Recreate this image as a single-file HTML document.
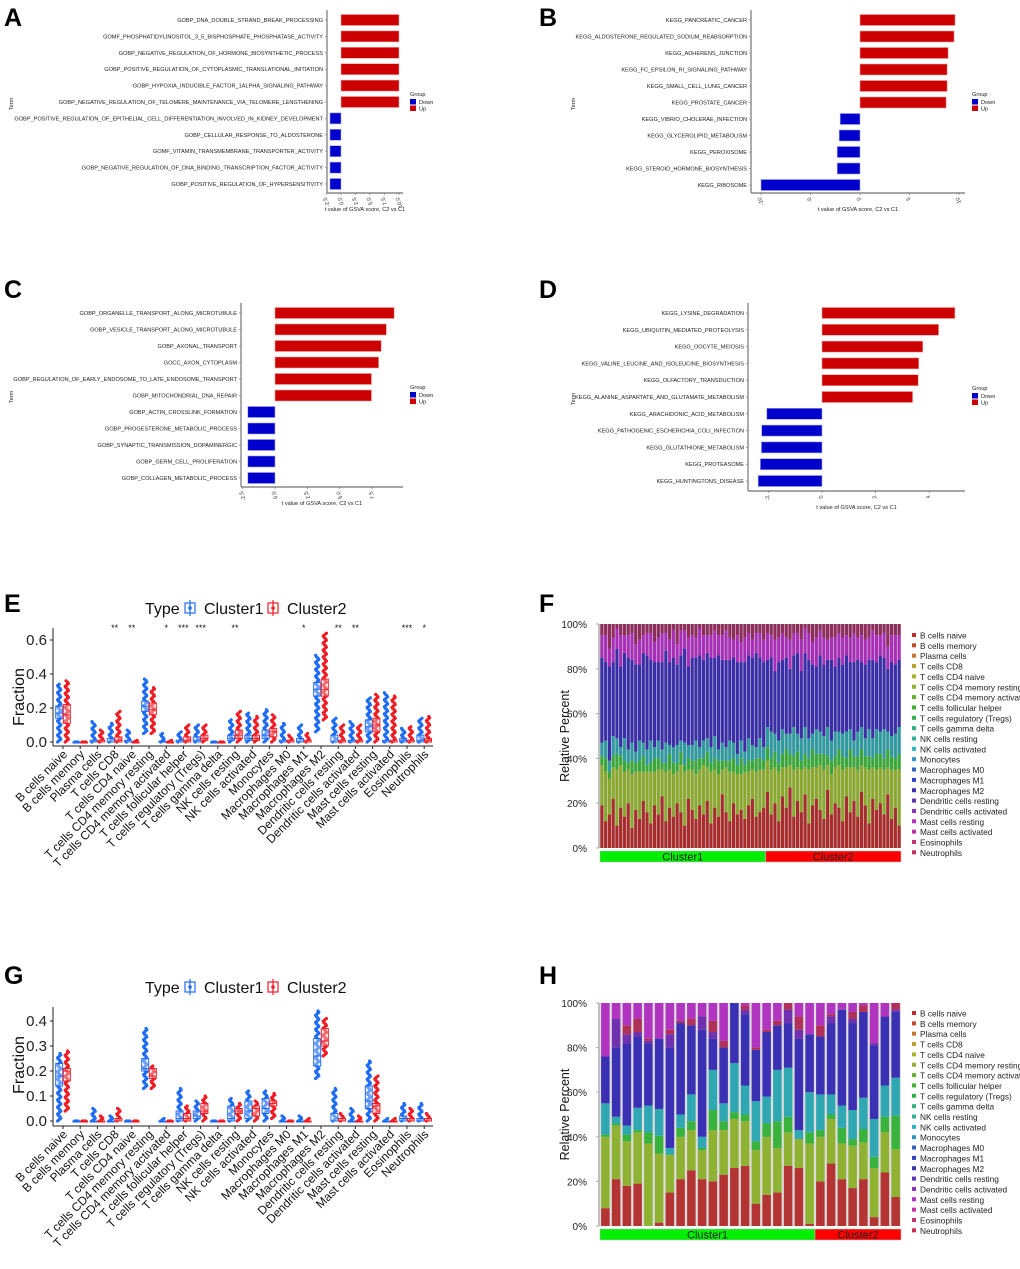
<!DOCTYPE html>
<html><head><meta charset="utf-8"><style>
html,body{margin:0;padding:0;background:#fff;}
svg text{font-family:"Liberation Sans",Arial,sans-serif;}
</style></head><body>
<svg id="fig" xmlns="http://www.w3.org/2000/svg" width="1020" height="1264" viewBox="0 0 1020 1264">
<rect width="1020" height="1264" fill="#fff"/>
<g font-weight="bold" font-size="25">
<text x="4" y="26">A</text><text x="539" y="26">B</text>
<text x="4" y="298">C</text><text x="539" y="298">D</text>
<text x="4" y="612">E</text><text x="539" y="612">F</text>
<text x="4" y="984">G</text><text x="539" y="984">H</text>
</g>
</svg>
<script>
// ---------- Panel A-D data ----------
const termsA = ["GOBP_DNA_DOUBLE_STRAND_BREAK_PROCESSING","GOMF_PHOSPHATIDYLINOSITOL_3_5_BISPHOSPHATE_PHOSPHATASE_ACTIVITY","GOBP_NEGATIVE_REGULATION_OF_HORMONE_BIOSYNTHETIC_PROCESS","GOBP_POSITIVE_REGULATION_OF_CYTOPLASMIC_TRANSLATIONAL_INITIATION","GOBP_HYPOXIA_INDUCIBLE_FACTOR_1ALPHA_SIGNALING_PATHWAY","GOBP_NEGATIVE_REGULATION_OF_TELOMERE_MAINTENANCE_VIA_TELOMERE_LENGTHENING","GOBP_POSITIVE_REGULATION_OF_EPITHELIAL_CELL_DIFFERENTIATION_INVOLVED_IN_KIDNEY_DEVELOPMENT","GOBP_CELLULAR_RESPONSE_TO_ALDOSTERONE","GOMF_VITAMIN_TRANSMEMBRANE_TRANSPORTER_ACTIVITY","GOBP_NEGATIVE_REGULATION_OF_DNA_BINDING_TRANSCRIPTION_FACTOR_ACTIVITY","GOBP_POSITIVE_REGULATION_OF_HYPERSENSITIVITY"];
const valuesA = [10.0,10.0,10.0,10.0,10.0,10.0,-1.9,-1.9,-1.9,-1.9,-1.9];
const ticksA = [-2.5,0,2.5,5,7.5,10];
const tickLabelsA = ["-2.5","0.0","2.5","5.0","7.5","10.0"];
const termsB = ["KEGG_PANCREATIC_CANCER","KEGG_ALDOSTERONE_REGULATED_SODIUM_REABSORPTION","KEGG_ADHERENS_JUNCTION","KEGG_FC_EPSILON_RI_SIGNALING_PATHWAY","KEGG_SMALL_CELL_LUNG_CANCER","KEGG_PROSTATE_CANCER","KEGG_VIBRIO_CHOLERAE_INFECTION","KEGG_GLYCEROLIPID_METABOLISM","KEGG_PEROXISOME","KEGG_STEROID_HORMONE_BIOSYNTHESIS","KEGG_RIBOSOME"];
const valuesB = [9.6,9.5,8.9,8.8,8.8,8.7,-2.0,-2.1,-2.3,-2.3,-10.0];
const ticksB = [-10,-5,0,5,10];
const tickLabelsB = ["-10","-5","0","5","10"];
const termsC = ["GOBP_ORGANELLE_TRANSPORT_ALONG_MICROTUBULE","GOBP_VESICLE_TRANSPORT_ALONG_MICROTUBULE","GOBP_AXONAL_TRANSPORT","GOCC_AXON_CYTOPLASM","GOBP_REGULATION_OF_EARLY_ENDOSOME_TO_LATE_ENDOSOME_TRANSPORT","GOBP_MITOCHONDRIAL_DNA_REPAIR","GOBP_ACTIN_CROSSLINK_FORMATION","GOBP_PROGESTERONE_METABOLIC_PROCESS","GOBP_SYNAPTIC_TRANSMISSION_DOPAMINERGIC","GOBP_GERM_CELL_PROLIFERATION","GOBP_COLLAGEN_METABOLIC_PROCESS"];
const valuesC = [9.2,8.6,8.2,8.0,7.45,7.45,-2.1,-2.1,-2.1,-2.1,-2.1];
const ticksC = [-2.5,0,2.5,5,7.5];
const tickLabelsC = ["-2.5","0.0","2.5","5.0","7.5"];
const termsD = ["KEGG_LYSINE_DEGRADATION","KEGG_UBIQUITIN_MEDIATED_PROTEOLYSIS","KEGG_OOCYTE_MEIOSIS","KEGG_VALINE_LEUCINE_AND_ISOLEUCINE_BIOSYNTHESIS","KEGG_OLFACTORY_TRANSDUCTION","KEGG_ALANINE_ASPARTATE_AND_GLUTAMATE_METABOLISM","KEGG_ARACHIDONIC_ACID_METABOLISM","KEGG_PATHOGENIC_ESCHERICHIA_COLI_INFECTION","KEGG_GLUTATHIONE_METABOLISM","KEGG_PROTEASOME","KEGG_HUNTINGTONS_DISEASE"];
const valuesD = [4.96,4.35,3.76,3.61,3.59,3.38,-2.06,-2.25,-2.26,-2.30,-2.38];
const ticksD = [-2,0,2,4];
const tickLabelsD = ["-2","0","2","4"];

// ---------- Panel E / G data (fractions) ----------
const cells = ["B cells naive","B cells memory","Plasma cells","T cells CD8","T cells CD4 naive","T cells CD4 memory resting","T cells CD4 memory activated","T cells follicular helper","T cells regulatory (Tregs)","T cells gamma delta","NK cells resting","NK cells activated","Monocytes","Macrophages M0","Macrophages M1","Macrophages M2","Dendritic cells resting","Dendritic cells activated","Mast cells resting","Mast cells activated","Eosinophils","Neutrophils"];
const sigE = ["","","","**","**","","*","***","***","","**","","","","*","","**","**","","","***","*"];
const e1Q1 = [.14,0,0,0,0,.18,0,0,0,0,.01,.01,.02,0,0,.27,0,0,.06,0,0,0];
const e1Med= [.17,0,0,0,0,.21,0,0,.01,0,.02,.02,.04,0,0,.31,0,0,.09,0,.01,.01];
const e1Q3 = [.21,0,.01,.02,.01,.24,.005,.01,.03,0,.04,.04,.07,.01,.02,.35,.04,.01,.13,.01,.02,.04];
const e1Min= [0,0,0,0,0,.05,0,0,0,0,0,0,0,0,0,.06,0,0,0,0,0,0];
const e1Max= [.34,0,.12,.11,.07,.37,.05,.06,.10,0,.13,.17,.19,.11,.10,.51,.14,.12,.26,.29,.08,.14];
const e2Q1 = [.11,0,0,0,0,.16,0,0,.01,0,.02,.01,.03,0,0,.27,0,0,.06,0,0,0];
const e2Med= [.16,0,0,.01,0,.19,0,.01,.02,0,.04,.02,.06,0,0,.31,0,0,.10,0,0,.01];
const e2Q3 = [.22,0,.01,.03,0,.23,0,.03,.04,0,.07,.04,.08,.01,.01,.37,.01,.01,.14,.01,.01,.02];
const e2Min= [0,0,0,0,0,.05,0,0,0,0,0,0,0,0,0,.13,0,0,0,0,0,0];
const e2Max= [.36,0,.07,.18,.01,.32,.01,.10,.10,0,.18,.15,.16,.04,.05,.64,.10,.10,.28,.27,.09,.15];
const yTicksE = [0,0.2,0.4,0.6];
const yTickLabelsE = ["0.0","0.2","0.4","0.6"];

const g1Q1 = [.14,0,0,0,0,.20,0,0,.01,0,0,.01,.03,0,0,.22,0,0,.05,0,0,0];
const g1Med= [.18,0,0,0,0,.21,0,.01,.02,0,.01,.04,.05,0,0,.26,0,0,.08,0,.01,0];
const g1Q3 = [.23,0,0,0,0,.25,0,.04,.04,0,.06,.08,.09,0,0,.33,.03,0,.14,0,.02,.01];
const g1Min= [0,0,0,0,0,.13,0,0,0,0,0,0,0,0,0,.17,0,0,0,0,0,0];
const g1Max= [.27,0,.05,.02,0,.37,.01,.13,.08,0,.09,.12,.12,.02,.02,.44,.13,.05,.24,.01,.07,.07];
const g2Q1 = [.16,0,0,0,0,.17,0,0,.03,0,.03,.02,.06,0,0,.30,0,0,.03,0,0,0];
const g2Med= [.20,0,0,0,0,.18,0,.01,.04,0,.04,.05,.07,0,0,.32,0,0,.06,0,0,.01];
const g2Q3 = [.21,0,0,.01,0,.21,0,.03,.07,0,.05,.06,.08,0,0,.37,.01,0,.07,0,.01,.01];
const g2Min= [.04,0,0,0,0,.13,0,0,0,0,0,0,.01,0,0,.26,0,0,0,0,0,0];
const g2Max= [.28,0,.02,.05,0,.22,0,.06,.10,0,.07,.08,.11,0,.01,.41,.03,.02,.18,.01,.05,.03];
const yTicksG = [0,0.1,0.2,0.3,0.4];
const yTickLabelsG = ["0.0","0.1","0.2","0.3","0.4"];

// ---------- Panel F data (% per sample, 44 Cluster1 + 36 Cluster2) ----------
const fBNaive = [19,12,15,22,10,18,14,20,9,17,13,21,16,11,19,15,23,12,18,14,20,16,10,22,17,13,19,15,21,11,18,14,24,16,12,20,15,17,13,19,22,14,16,18,25,15,20,12,23,18,27,14,21,16,24,11,19,22,17,13,26,15,20,18,12,23,16,21,14,25,19,11,22,17,20,15,24,13,18,10];
const fCD4 = [18,22,16,14,25,19,20,15,24,17,21,13,18,23,15,20,12,22,17,19,14,21,24,13,18,20,16,22,15,23,17,19,11,20,22,14,18,16,21,15,13,20,19,17,14,20,16,22,13,18,10,21,15,19,12,24,17,14,20,22,11,18,16,19,23,13,20,15,21,12,17,24,14,18,16,20,12,22,17,25];
const fTGreen = [4,6,3,5,7,4,5,3,6,4,5,7,3,4,6,5,3,4,7,5,4,6,3,5,4,6,5,3,7,4,5,6,4,3,5,6,4,7,3,5,4,6,5,4,6,5,7,4,6,8,5,6,7,4,6,5,8,6,5,7,4,6,5,7,6,4,8,5,6,7,5,6,4,7,6,5,8,6,5,7];
const fNKMono = [6,8,5,9,7,4,10,6,8,5,9,6,7,10,5,8,6,9,4,7,8,5,10,6,7,9,5,8,6,7,10,5,8,6,9,7,5,8,6,10,7,5,9,6,9,12,8,10,11,7,9,13,8,10,12,9,7,11,10,8,13,9,11,8,10,12,9,7,11,10,8,12,9,11,10,13,8,9,11,12];
const fM2 = [38,35,42,33,40,36,38,41,37,39,34,40,42,36,38,35,39,41,37,40,36,38,42,35,39,37,41,36,38,40,35,42,37,39,36,38,41,35,40,37,39,42,36,38,30,33,28,35,31,34,29,32,36,30,33,35,31,28,34,32,30,36,29,33,31,34,30,35,32,29,33,31,35,30,34,32,28,33,31,30];
const fMast = [10,12,8,11,9,14,8,10,12,9,11,8,10,12,9,11,13,8,10,12,9,11,8,13,10,9,12,11,8,10,12,9,11,13,10,8,12,9,11,10,8,9,11,10,12,10,14,11,12,9,13,10,9,14,11,12,10,13,11,12,9,10,13,11,12,9,11,13,10,12,11,10,13,12,9,11,10,12,13,11];
const fNClust1 = 44;

// ---------- Panel H data (% per sample, 20 Cluster1 + 8 Cluster2) ----------
const hBNaive = [8,21,18,19,0,1.5,15,21,25,21,20,23,26,27,10,14,15,27,26,1,20,28,21,17,21,4,24,13];
const hCD4 = [32,24,20,23,37,31,17,19,18,13,23,20,22,20,24,26,20,15,13,36,20,20,16,19,16.5,22,18,21.5];
const hTGreen = [1,1,3,1,5,8,0,4,4,1,9,4,3,3,4,6,12,7,0,5,3,2,7,3,6,5,7,15];
const hNKMono = [14,3,4,10,12,12,3,6,12,5,18,8,22,13,18,12,23,22,4,18,16,9,10,13,14,17,14,17];
const hM2 = [21,31,37,32,28,31.5,45,41,31,48,14,25,27,32,23,29,20,20,41,26,26,32,43,39,38.5,33,31,29.5];
const hDCAct = [0,13,4,2,1,0,6,0,0,6,3,0,0,2,0,0,0,6,4,0,0,3,0,2,0,1,0,1];
const hNeut = [0,0,4,6,1,0,2,1,3,0,5,3,0,2,1,1,2,3,6,0,5,1,0,3,3,0,0,3];
const hNClust1 = 20;

const legendCells = cells;
const legendColors = ["#c42a2a","#c4482a","#c4782e","#bba030","#a9b232","#8fb232","#62b232","#3ab232","#30b24a","#30b27a","#30b2a0","#30b2c4","#3294c4","#3262c4","#3242c4","#3a30b4","#5a30b4","#8a30ba","#b230c4","#c430aa","#c4307a","#c43052"];

// ---------- helpers ----------
const NS = "http://www.w3.org/2000/svg";
const svg = document.getElementById("fig");
function mk(tag, attrs, parent, txt){
  const e = document.createElementNS(NS, tag);
  for (const k in attrs) e.setAttribute(k, attrs[k]);
  if (txt !== undefined) e.textContent = txt;
  (parent || svg).appendChild(e);
  return e;
}

// ---------- horizontal GSVA bar panels ----------
function hbar(cfg){
  const g = mk("g", {});
  
  
  const xs = v => cfg.zero + v * cfg.scale;
  const step = (cfg.rowEnd - cfg.rowStart) / (cfg.terms.length - 1);
  cfg.terms.forEach((t, i) => {
    const y = cfg.rowStart + i * step;
    const v = cfg.values[i];
    const x0 = Math.min(xs(0), xs(v)), w = Math.abs(xs(v) - xs(0));
    const b = mk("rect", {x:x0, y:y-5.5, width:w, height:11, fill: v>0?"#cc0000":"#0000cc", stroke: v>0?"#f0a0a0":"#a0a0f0", "stroke-width":0.6}, g);
    
    
    const lb = mk("text", {x:cfg.axisX-4, y:y+2, "font-size":5.6, "text-anchor":"end", fill:"#222"}, g, t);
    
    
    mk("line", {x1:cfg.axisX-2, x2:cfg.axisX, y1:y, y2:y, stroke:"#666", "stroke-width":0.6}, g);
  });
  mk("line", {x1:cfg.axisX, x2:cfg.axisX, y1:cfg.rowStart-10, y2:cfg.axisY, stroke:"#888", "stroke-width":1.4}, g);
  mk("line", {x1:cfg.axisX, x2:cfg.axisRight, y1:cfg.axisY, y2:cfg.axisY, stroke:"#888", "stroke-width":1.4}, g);
  cfg.ticks.forEach((tv, i) => {
    const x = xs(tv);
    mk("line", {x1:x, x2:x, y1:cfg.axisY, y2:cfg.axisY+2, stroke:"#666", "stroke-width":0.6}, g);
    const tl = mk("text", {x:x, y:cfg.axisY+4, "font-size":5.5, "text-anchor":"end", transform:`rotate(-110 ${x} ${cfg.axisY+4})`, fill:"#333"}, g, cfg.tickLabels[i]);
    
    
  });
  const xt = mk("text", {x:(cfg.axisX+cfg.axisRight)/2, y:cfg.axisY+18, "font-size":5.6, "text-anchor":"middle", fill:"#222"}, g, "t value of GSVA score, C2 vs C1");
  
  
  const yt = mk("text", {x:cfg.termX, y:cfg.termY, "font-size":5.6, "text-anchor":"middle", transform:`rotate(-90 ${cfg.termX} ${cfg.termY})`, fill:"#222"}, g, "Term");
  
  
  const lg = mk("g", {}, g);
  
  
  mk("text", {x:cfg.legX, y:cfg.legY, "font-size":5.6, fill:"#222"}, lg, "Group");
  mk("rect", {x:cfg.legX, y:cfg.legY+3, width:6, height:5.5, fill:"#0000cc"}, lg);
  mk("text", {x:cfg.legX+9, y:cfg.legY+8, "font-size":5.6, fill:"#222"}, lg, "Down");
  mk("rect", {x:cfg.legX, y:cfg.legY+9.5, width:6, height:5.5, fill:"#cc0000"}, lg);
  mk("text", {x:cfg.legX+9, y:cfg.legY+14.5, "font-size":5.6, fill:"#222"}, lg, "Up");
}
hbar({name:"panel-a-go-bars", terms:termsA, values:valuesA, ticks:ticksA, tickLabels:tickLabelsA, zero:341, scale:5.8, axisX:327, axisY:193, axisRight:403, rowStart:20, rowEnd:184, termX:13, termY:104, legX:410, legY:96});
hbar({name:"panel-b-kegg-bars", terms:termsB, values:valuesB, ticks:ticksB, tickLabels:tickLabelsB, zero:860, scale:9.9, axisX:751, axisY:193, axisRight:965, rowStart:20, rowEnd:185, termX:575, termY:104, legX:972, legY:96});
hbar({name:"panel-c-go-bars", terms:termsC, values:valuesC, ticks:ticksC, tickLabels:tickLabelsC, zero:275, scale:12.95, axisX:241, axisY:487, axisRight:403, rowStart:313, rowEnd:478, termX:13, termY:397, legX:410, legY:389});
hbar({name:"panel-d-kegg-bars", terms:termsD, values:valuesD, ticks:ticksD, tickLabels:tickLabelsD, zero:822, scale:26.8, axisX:748, axisY:491, axisRight:965, rowStart:313, rowEnd:481, termX:575, termY:399, legX:972, legY:390});

// ---------- box plot panels ----------
function boxPanel(cfg){
  const g = mk("g", {});
  
  
  const ys = v => cfg.y0 - v * cfg.yScale;
  const xc = i => 63 + i * 17.2;
  const c1 = "#1e6cf5", c2 = "#ee1c24";
  const lg = mk("g", {}, g);
  
  
  mk("text", {x:145, y:cfg.legY+6, "font-size":16, fill:"#111"}, lg, "Type");
  [[c1,"Cluster1",185],[c2,"Cluster2",268]].forEach(([c,t,x]) => {
    mk("rect", {x:x, y:cfg.legY-5, width:10, height:10, fill:"none", stroke:c, "stroke-width":1.2}, lg);
    mk("line", {x1:x+5, x2:x+5, y1:cfg.legY-8, y2:cfg.legY+8, stroke:c, "stroke-width":1.2}, lg);
    mk("circle", {cx:x+5, cy:cfg.legY, r:1.8, fill:c}, lg);
    mk("text", {x:x+19, y:cfg.legY+6, "font-size":16, fill:"#111"}, lg, t);
  });
  mk("line", {x1:53, x2:53, y1:cfg.axisTop, y2:cfg.axisY, stroke:"#222", "stroke-width":1}, g);
  mk("line", {x1:53, x2:433, y1:cfg.axisY, y2:cfg.axisY, stroke:"#222", "stroke-width":1}, g);
  cfg.yTicks.forEach((tv, i) => {
    const y = ys(tv);
    mk("line", {x1:50, x2:53, y1:y, y2:y, stroke:"#222"}, g);
    const t = mk("text", {x:47, y:y+5, "font-size":15, "text-anchor":"end", fill:"#222"}, g, cfg.yTickLabels[i]);
    
    
  });
  const yt = mk("text", {x:24, y:cfg.yTitleY, "font-size":16, "text-anchor":"middle", transform:`rotate(-90 24 ${cfg.yTitleY})`, fill:"#111"}, g, "Fraction");
  
  
  const jit = [-1.6, 0, 1.6, 0.8, -0.8];
  cells.forEach((c, i) => {
    const x = xc(i);
    mk("line", {x1:x, x2:x, y1:cfg.axisY, y2:cfg.axisY+3, stroke:"#222"}, g);
    const t = mk("text", {x:x+5, y:cfg.axisY+9, "font-size":12, "text-anchor":"end", transform:`rotate(-45 ${x+5} ${cfg.axisY+9})`, fill:"#111"}, g, c);
    
    
    if (cfg.sig && cfg.sig[i]) {
      const s = mk("text", {x:x, y:cfg.sigY, "font-size":9, "text-anchor":"middle", fill:"#111"}, g, cfg.sig[i]);
      
      
    }
    [[cfg.s1, c1, -3.8],[cfg.s2, c2, 3.8]].forEach(([s, col, off]) => {
      const cx = x + off;
      const grp = mk("g", {}, g);
      
      
      const mn = s.min[i], mx = s.max[i];
      mk("line", {x1:cx, x2:cx, y1:ys(mn), y2:ys(Math.min(mx, s.q3[i] + 1.5*(s.q3[i]-s.q1[i]) + 0.03)), stroke:col}, grp);
      const nd = Math.max(2, Math.round((mx - mn) * cfg.yScale / 1.4));
      for (let k = 0; k <= nd; k++) {
        const v = mn + (mx - mn) * k / nd;
        mk("circle", {cx:cx + jit[k % 5], cy:ys(v), r:1.6, fill:col}, grp);
      }
      const top = ys(s.q3[i]), bot = ys(s.q1[i]);
      mk("rect", {x:cx-3.5, y:top, width:7, height:Math.max(1, bot-top), fill:"rgba(255,255,255,0.35)", stroke:col, "stroke-width":1}, grp);
      mk("line", {x1:cx-3.5, x2:cx+3.5, y1:ys(s.med[i]), y2:ys(s.med[i]), stroke:col, "stroke-width":1}, grp);
    });
  });
}
boxPanel({name:"panel-e-immune-boxplot", y0:742, yScale:170, axisY:746, axisTop:628, legY:608, yTitleY:697, sigY:631, sig:sigE,
  yTicks:yTicksE, yTickLabels:yTickLabelsE,
  s1:{q1:e1Q1, med:e1Med, q3:e1Q3, min:e1Min, max:e1Max}, s2:{q1:e2Q1, med:e2Med, q3:e2Q3, min:e2Min, max:e2Max}});
boxPanel({name:"panel-g-immune-boxplot", y0:1121, yScale:250, axisY:1126, axisTop:1007, legY:987, yTitleY:1065, sig:null,
  yTicks:yTicksG, yTickLabels:yTickLabelsG,
  s1:{q1:g1Q1, med:g1Med, q3:g1Q3, min:g1Min, max:g1Max}, s2:{q1:g2Q1, med:g2Med, q3:g2Q3, min:g2Min, max:g2Max}});

// ---------- stacked percent panels ----------
function stackPanel(cfg){
  const g = mk("g", {});
  
  
  const X0 = 600, X1 = 901;
  const ys = p => cfg.y0 - p / 100 * (cfg.y0 - cfg.y100);
  const n = cfg.series[0].length;
  const bw = (X1 - X0) / n;
  mk("rect", {x:X0, y:cfg.y100, width:X1-X0, height:cfg.y0-cfg.y100, fill:"#ddd"}, g);
  for (let i = 0; i < n; i++) {
    let acc = 0;
    const bx = X0 + i * bw;
    cfg.series.forEach((arr, si) => {
      const v = arr[i] || 0;
      const r = mk("rect", {x:bx + cfg.gap/2, y:ys(acc+v), width:bw - cfg.gap, height:ys(acc)-ys(acc+v), fill:cfg.colors[si]}, g);
      
      
      acc += v;
    });
    if (acc < 100) {
      const r = mk("rect", {x:bx + cfg.gap/2, y:cfg.y100, width:bw - cfg.gap, height:ys(acc)-cfg.y100, fill:cfg.restColor}, g);
      
      
    }
  }
  mk("line", {x1:X0-1, x2:X0-1, y1:cfg.y100, y2:cfg.y0, stroke:"#aaa", "stroke-width":1.5}, g);
  [0,20,40,60,80,100].forEach(p => {
    mk("line", {x1:X0-4, x2:X0-1, y1:ys(p), y2:ys(p), stroke:"#aaa"}, g);
    const t = mk("text", {x:X0-13, y:ys(p)+4, "font-size":10, "text-anchor":"end", fill:"#222"}, g, p + "%");
    
    
  });
  const yt = mk("text", {x:569, y:(cfg.y0+cfg.y100)/2, "font-size":12.5, "text-anchor":"middle", transform:`rotate(-90 569 ${(cfg.y0+cfg.y100)/2})`, fill:"#111"}, g, "Relative Percent");
  
  
  const split = X0 + cfg.nClust1 * bw;
  const cb = mk("rect", {x:X0, y:cfg.y0+3, width:split-X0, height:11, fill:"#00ee00", stroke:"#bbb", "stroke-width":0.6}, g);
  
  
  const cr = mk("rect", {x:split, y:cfg.y0+3, width:X1-split, height:11, fill:"#ff0000", stroke:"#bbb", "stroke-width":0.6}, g);
  
  
  mk("text", {x:(X0+split)/2, y:cfg.y0+12.5, "font-size":11, "text-anchor":"middle", fill:"#222"}, g, "Cluster1");
  mk("text", {x:(split+X1)/2, y:cfg.y0+12.5, "font-size":11, "text-anchor":"middle", fill:"#222"}, g, "Cluster2");
  const lg = mk("g", {}, g);
  
  
  legendCells.forEach((c, i) => {
    const y = cfg.legY + i * 10.35;
    mk("rect", {x:912, y:y-3, width:4, height:4, fill:legendColors[i]}, lg);
    const t = mk("text", {x:920, y:y+2.5, "font-size":8.3, fill:"#222"}, lg, c);
    
    
  });
}
stackPanel({name:"panel-f-stacked-percent", y0:848, y100:624, legY:636, nClust1:fNClust1, gap:0.6,
  series:[fBNaive, fCD4, fTGreen, fNKMono, fM2, fMast],
  colors:["#a82c2c","#8aa82e","#3aa838","#2e9aa0","#3a2ea8","#a82eb8"], restColor:"#8e2c5c"});
stackPanel({name:"panel-h-stacked-percent", y0:1226, y100:1003, legY:1014, nClust1:hNClust1, gap:2.2,
  series:[hBNaive, hCD4, hTGreen, hNKMono, hM2, hDCAct, hNeut],
  colors:["#b43434","#8fb232","#3ab23e","#30a8b4","#3a30b4","#7030b0","#b0305a"], restColor:"#b034c0"});
</script>
</body></html>
